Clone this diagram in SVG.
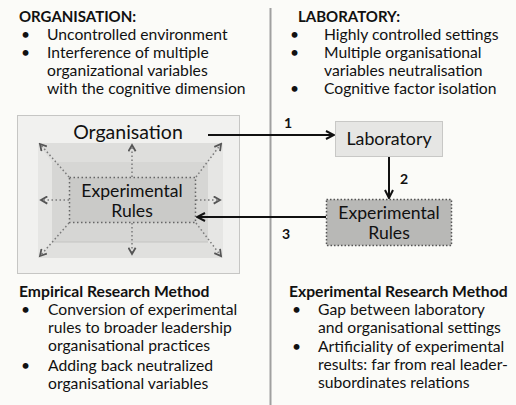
<svg xmlns="http://www.w3.org/2000/svg" width="516" height="405" viewBox="0 0 516 405">
<defs>
<style>
.t{font-family:Lato,"Open Sans","Liberation Sans",sans-serif;font-size:15.7px;fill:#111}
.h{font-size:15px}
.b{font-weight:bold}
.c{text-anchor:middle}
.n{font-family:Lato,"Liberation Sans",sans-serif;font-size:14px;font-weight:bold;fill:#111;text-anchor:middle}
.dot{stroke:#7a7a7a;stroke-width:1.5;stroke-dasharray:1.5 2.5;fill:none}
.conn{stroke:#111;stroke-width:2;fill:none}
</style>
<marker id="ah" viewBox="0 0 10 10" refX="9" refY="5" markerWidth="10" markerHeight="10" markerUnits="userSpaceOnUse" orient="auto">
<path d="M1,1 L9,5 L1,9" fill="none" stroke="#111" stroke-width="2"/>
</marker>
<marker id="gh" viewBox="0 0 10 10" refX="8" refY="5" markerWidth="9" markerHeight="9" markerUnits="userSpaceOnUse" orient="auto">
<path d="M1,1 L8,5 L1,9" fill="none" stroke="#555" stroke-width="2"/>
</marker>
</defs>
<rect x="0" y="0" width="516" height="405" fill="#fbfbf8"/>
<line x1="270.5" y1="8" x2="270.5" y2="405" stroke="#a0a0a0" stroke-width="2"/>

<g id="organisation-text">
<text class="t b h" x="19" y="22">ORGANISATION:</text>
<text class="t" x="21" y="40">•</text><text class="t" x="47" y="40">Uncontrolled environment</text>
<text class="t" x="21" y="58">•</text><text class="t" x="47" y="58">Interference of multiple</text>
<text class="t" x="47" y="76">organizational variables</text>
<text class="t" x="47" y="94">with the cognitive dimension</text>
</g>

<g id="laboratory-text">
<text class="t b h" x="298" y="22">LABORATORY:</text>
<text class="t" x="290" y="40">•</text><text class="t" x="324" y="40">Highly controlled settings</text>
<text class="t" x="290" y="58">•</text><text class="t" x="324" y="58">Multiple organisational</text>
<text class="t" x="324" y="76">variables neutralisation</text>
<text class="t" x="290" y="94">•</text><text class="t" x="324" y="94">Cognitive factor isolation</text>
</g>

<g id="organisation">
<rect x="17.5" y="115.5" width="222" height="158" fill="#f1f1ef" stroke="#c6c6c4"/>
<rect x="38" y="143" width="185" height="115" fill="#e6e6e4"/>
<polygon points="38,143 223,143 208,162 52,162" fill="#dededc"/>
<polygon points="52,242 208,242 223,258 38,258" fill="#e0e0de"/>
<rect x="52" y="162" width="156" height="80" fill="#d6d6d4"/>
<line x1="52" y1="242" x2="208" y2="242" stroke="#c4c4c2" stroke-width="1"/>
<rect x="69.5" y="177.5" width="126" height="45" fill="#cacac8" stroke="#666" stroke-width="1.5" stroke-dasharray="1.5 2.5"/>
<text class="t c" x="128" y="139" style="font-size:19.5px">Organisation</text>
<text class="t c" x="132" y="197" style="font-size:17.6px">Experimental</text>
<text class="t c" x="132" y="217" style="font-size:17.6px">Rules</text>
<g>
<line class="dot" x1="132" y1="177" x2="132" y2="145" marker-end="url(#gh)"/>
<line class="dot" x1="132" y1="223" x2="132" y2="254" marker-end="url(#gh)"/>
<line class="dot" x1="69" y1="200" x2="41" y2="200" marker-end="url(#gh)"/>
<line class="dot" x1="196" y1="200" x2="220" y2="200" marker-end="url(#gh)"/>
<line class="dot" x1="69" y1="177" x2="40" y2="144" marker-end="url(#gh)"/>
<line class="dot" x1="196" y1="177" x2="221" y2="144" marker-end="url(#gh)"/>
<line class="dot" x1="69" y1="223" x2="40" y2="256" marker-end="url(#gh)"/>
<line class="dot" x1="196" y1="223" x2="221" y2="256" marker-end="url(#gh)"/>
</g>
</g>

<g id="laboratory">
<rect x="335.5" y="121.5" width="107" height="35" fill="#e6e6e4" stroke="#c8c8c6"/>
<text class="t c" x="389" y="145" style="font-size:17.8px">Laboratory</text>
</g>

<g id="experimental-rules">
<rect x="326.5" y="199.5" width="125" height="46" fill="#b8b8b6" stroke="#555" stroke-width="1.5" stroke-dasharray="1.5 2"/>
<text class="t c" x="389" y="219" style="font-size:17.6px">Experimental</text>
<text class="t c" x="389" y="239" style="font-size:17.6px">Rules</text>
</g>

<g id="connectors">
<line class="conn" x1="208" y1="135" x2="334" y2="135" marker-end="url(#ah)"/>
<line class="conn" x1="389" y1="157" x2="389" y2="198" marker-end="url(#ah)"/>
<line class="conn" x1="326" y1="217" x2="197" y2="217" marker-end="url(#ah)"/>
<text class="n" x="288" y="128">1</text>
<text class="n" x="404" y="184">2</text>
<text class="n" x="286" y="239">3</text>
</g>

<g id="empirical-text">
<text class="t b" x="19" y="297">Empirical Research Method</text>
<text class="t" x="21" y="315">•</text><text class="t" x="48" y="315">Conversion of experimental</text>
<text class="t" x="48" y="333">rules to broader leadership</text>
<text class="t" x="48" y="351">organisational practices</text>
<text class="t" x="21" y="371">•</text><text class="t" x="48" y="371">Adding back neutralized</text>
<text class="t" x="48" y="389">organisational variables</text>
</g>

<g id="experimental-text">
<text class="t b" x="289" y="297">Experimental Research Method</text>
<text class="t" x="292" y="315">•</text><text class="t" x="318" y="315">Gap between laboratory</text>
<text class="t" x="318" y="333">and organisational settings</text>
<text class="t" x="292" y="352">•</text><text class="t" x="318" y="352">Artificiality of experimental</text>
<text class="t" x="318" y="370">results: far from real leader-</text>
<text class="t" x="318" y="388">subordinates relations</text>
</g>
</svg>
